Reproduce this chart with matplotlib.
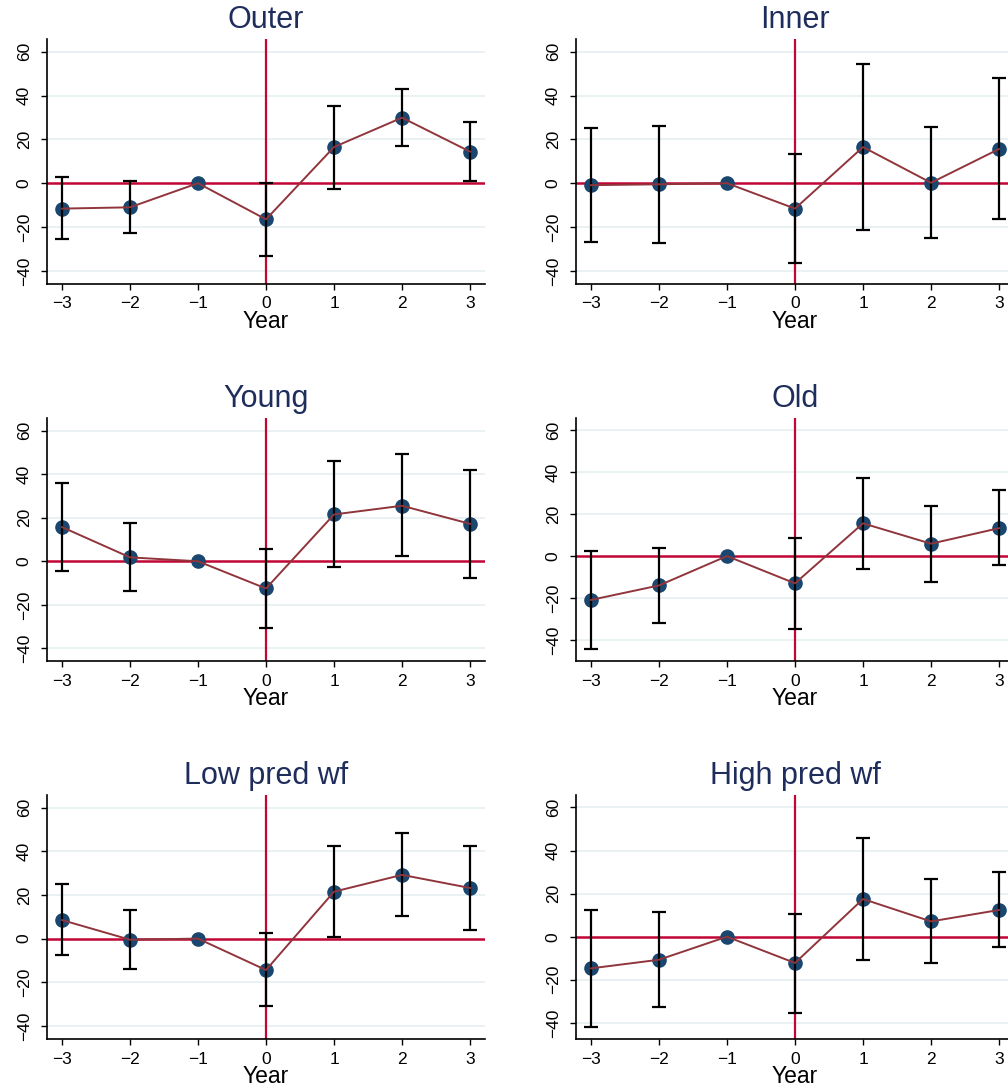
import numpy as np
import matplotlib
matplotlib.use("Agg")
import matplotlib.pyplot as plt

plt.rcParams['font.family'] = ['Liberation Sans', 'DejaVu Sans']

years = [-3, -2, -1, 0, 1, 2, 3]
titles = ["Outer", "Inner", "Young", "Old", "Low pred wf", "High pred wf"]

outer_b = [-11.6, -11.0, 0.0, -16.5, 16.5, 29.9, 14.4]
outer_hi = [2.6, 0.9, 0.0, 0.0, 35.1, 43.1, 27.8]
outer_lo = [-25.6, -22.9, 0.0, -33.0, -2.6, 16.9, 1.1]

inner_b = [-0.9, -0.5, 0.0, -11.6, 16.5, 0.2, 15.6]
inner_hi = [25.3, 26.3, 0.0, 13.3, 54.2, 25.5, 47.8]
inner_lo = [-27.0, -27.2, 0.0, -36.6, -21.4, -25.0, -16.5]

young_b = [15.7, 1.8, 0.0, -12.5, 21.5, 25.5, 17.2]
young_hi = [35.8, 17.4, 0.0, 5.5, 45.9, 49.1, 41.9]
young_lo = [-4.6, -13.6, 0.0, -30.6, -2.7, 2.4, -7.6]

old_b = [-20.9, -14.0, 0.0, -13.0, 15.6, 5.9, 13.3]
old_hi = [2.4, 4.0, 0.0, 8.6, 37.1, 23.8, 31.3]
old_lo = [-44.1, -31.9, 0.0, -34.9, -6.0, -12.2, -4.4]

low_b = [8.5, -0.5, 0.0, -14.4, 21.5, 29.2, 23.2]
low_hi = [24.9, 13.1, 0.0, 2.6, 42.3, 48.2, 42.3]
low_lo = [-7.5, -14.0, 0.0, -31.1, 0.8, 10.4, 3.8]

high_b = [-14.7, -10.7, 0.0, -12.2, 17.5, 7.1, 12.4]
high_hi = [12.4, 11.6, 0.0, 10.4, 45.7, 27.0, 29.9]
high_lo = [-41.7, -32.6, 0.0, -35.2, -10.7, -12.4, -5.0]

panels = [
    (outer_b, outer_lo, outer_hi),
    (inner_b, inner_lo, inner_hi),
    (young_b, young_lo, young_hi),
    (old_b, old_lo, old_hi),
    (low_b, low_lo, low_hi),
    (high_b, high_lo, high_hi),
]
ylows = [-46, -46, -45.8, -50, -46, -47.5]

W, H = 1008, 1091
fig = plt.figure(figsize=(W / 100, H / 100), dpi=100)

# axes boxes in pixels (left, right) / (top, bottom)
cols = [(47, 485), (576, 1014)]
rows = [(39, 284), (418, 661), (795, 1039)]

navy = "#1a476f"
maroon = "#90353b"
crimson = "#c10534"
titlecol = "#1e2d5c"
gridcol = "#eaf1f3"

for i, (b, lo, hi) in enumerate(panels):
    r, c = divmod(i, 2)
    x0, x1 = cols[c]
    y0, y1 = rows[r]
    ax = fig.add_axes([x0 / W, 1 - y1 / H, (x1 - x0) / W, (y1 - y0) / H])
    b = np.array(b)
    lo = np.array(lo)
    hi = np.array(hi)
    yr = np.array(years)

    for t in [-40, -20, 20, 40, 60]:
        ax.axhline(t, color=gridcol, lw=1.4, zorder=0)
    ax.axhline(0, color=crimson, lw=1.8, zorder=1)
    ax.axvline(0, color=crimson, lw=1.6, zorder=1)

    ax.plot(yr, b, "o", color=navy, ms=9.5, zorder=2)
    m = hi != lo
    ax.errorbar(yr[m], b[m], yerr=[b[m] - lo[m], hi[m] - b[m]], fmt="none",
                ecolor="black", elinewidth=1.6, capsize=5, capthick=1.6, zorder=3)
    ax.plot(yr, b, "-", color=maroon, lw=1.4, zorder=4)

    ax.set_xlim(-3.22, 3.22)
    ax.set_ylim(ylows[i], 65.8)
    ax.set_xticks(years)
    ax.set_xticklabels(["\u22123", "\u22122", "\u22121", "0", "1", "2", "3"])
    ax.set_yticks([-40, -20, 0, 20, 40, 60])
    ax.set_yticklabels(["\u221240", "\u221220", "0", "20", "40", "60"],
                       rotation=90, va="center")
    ax.tick_params(axis="both", labelsize=12.5, length=4, width=1, color="black")
    ax.tick_params(axis="y", pad=7)
    ax.tick_params(axis="x", pad=5)
    for s in ["top", "right"]:
        ax.spines[s].set_visible(False)
    for s in ["left", "bottom"]:
        ax.spines[s].set_linewidth(1.2)
    ax.set_xlabel("Year", fontsize=16.5, labelpad=-1)
    ax.set_title(titles[i], fontsize=22, color=titlecol, pad=8)

fig.savefig("out.png", dpi=100)
